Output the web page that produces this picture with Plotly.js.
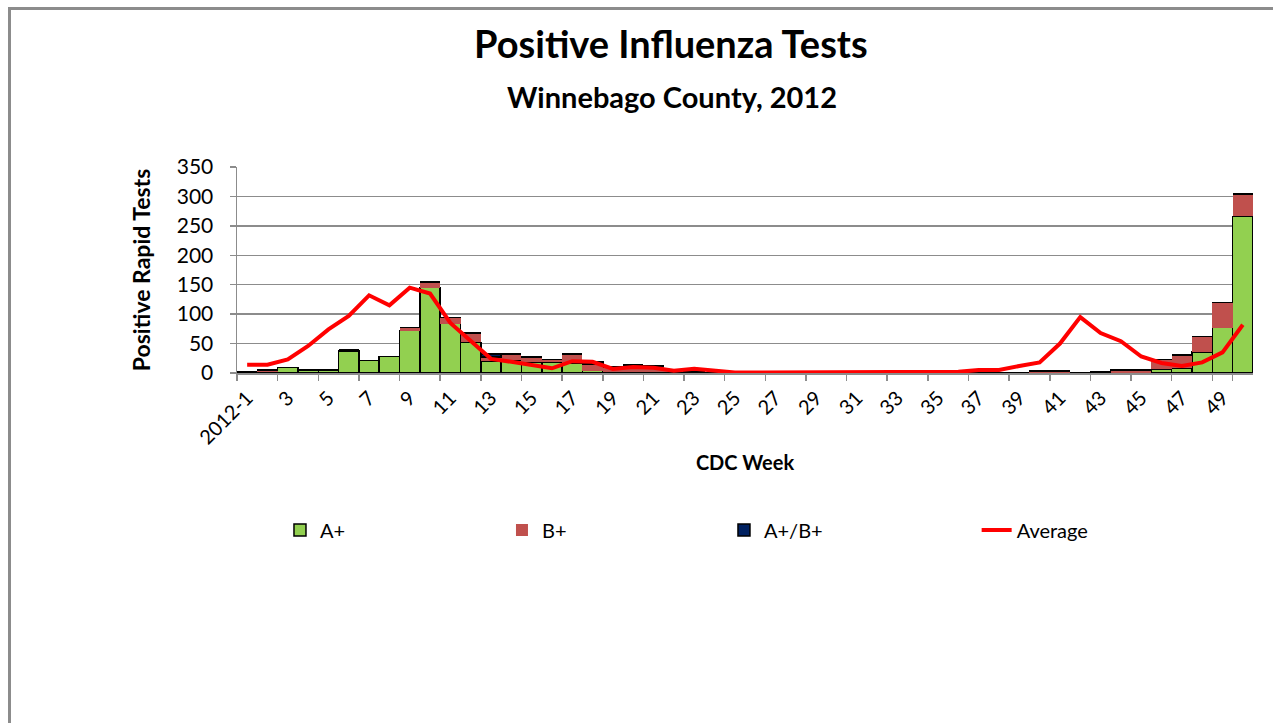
<!DOCTYPE html>
<html>
<head>
<meta charset="utf-8">
<script src="https://cdn.plot.ly/plotly-3.0.1.min.js"></script>
<style>
  html, body { margin: 0; padding: 0; background: #ffffff; overflow: hidden; }
  #chart { position: absolute; left: 0; top: 0; width: 1273px; height: 723px; }
  #frame { position: absolute; left: 8px; top: 7px; width: 1400px; height: 800px;
           border-left: 3px solid #8c8c8c; border-top: 3px solid #8c8c8c; pointer-events: none; }
</style>
</head>
<body>
<div id="chart"></div>
<div id="frame"></div>
<script>
// CDC weeks
const weeks = ['2012-1'];
for (let w = 2; w <= 50; w++) weeks.push(String(w));

// Tick labels (every other week)
const tickWeeks = ['2012-1','3','5','7','9','11','13','15','17','19','21','23','25','27','29','31','33','35','37','39','41','43','45','47','49'];

// Positive A+
const aPos = [2, 1, 9, 5, 5, 37, 21, 28, 72, 145,
              84, 52, 20, 22, 19, 18, 17, 4, 2, 2,
              2, 1, 1, 0, 0, 0, 0, 0, 0, 0,
              0, 0, 0, 0, 0, 0, 0, 0, 0, 0,
              0, 0, 0, 0, 0, 6, 8, 36, 77, 266];

// Positive B+
const bPos = [0, 4, 0, 0, 0, 2, 0, 0, 5, 10,
              10, 16, 7, 10, 8, 5, 15, 11, 8, 12,
              10, 4, 1, 1, 0, 0, 0, 0, 0, 0,
              0, 0, 0, 0, 0, 0, 0, 0, 0, 3,
              3, 0, 2, 4, 4, 17, 23, 26, 43, 38];

// Positive A+/B+
const abPos = [0, 0, 0, 0, 0, 0, 0, 0, 0, 0,
               0, 0, 5, 0, 0, 0, 0, 4, 0, 0,
               0, 0, 2, 0, 0, 0, 0, 0, 0, 0,
               0, 0, 0, 0, 0, 0, 0, 0, 0, 1,
               0, 0, 0, 1, 1, 0, 0, 0, 0, 0];

// Average
const avg = [14, 14, 23, 46, 74, 97, 132, 115, 145, 135,
             85, 54, 24, 19, 13, 8, 20, 19, 7, 10,
             9, 4, 7, 4, 1, 1, 1, 1, 1, 1,
             1, 2, 1, 1, 1, 2, 5, 5, 12, 18,
             50, 95, 68, 54, 28, 17, 12, 18, 35, 82];

const FONT = 'Lato, "Open Sans", sans-serif';

const traces = [
  { type: 'bar', name: 'A+', x: weeks, y: aPos, legend: 'legend',
    marker: { color: '#92D050', line: { color: '#000000', width: 1.5 } } },
  { type: 'bar', name: 'B+', x: weeks, y: bPos, legend: 'legend',
    marker: { color: '#C0504D', line: { color: '#C0504D', width: 0 } } },
  { type: 'bar', name: 'A+/B+', x: weeks, y: abPos, legend: 'legend',
    marker: { color: '#002060', line: { color: '#000000', width: 1.5 } } },
  { type: 'scatter', mode: 'lines', name: 'Average', x: weeks, y: avg, legend: 'legend2',
    line: { color: '#FF0000', width: 4 } }
];

const legendY = (373 - 530) / 206;

const layout = {
  width: 1273, height: 723,
  paper_bgcolor: 'rgba(0,0,0,0)', plot_bgcolor: '#ffffff',
  margin: { l: 237, r: 20, t: 167, b: 350 },
  barmode: 'stack', bargap: 0,
  font: { family: FONT, size: 18, color: '#000000' },
  title: { text: '<b>Positive Influenza Tests</b>', x: 0.527, xanchor: 'center',
           y: 0.938, yanchor: 'middle', font: { family: FONT, size: 38, color: '#000000' } },
  annotations: [
    { text: '<b>Winnebago County, 2012</b>', xref: 'paper', yref: 'paper',
      x: 0.428, y: 1.0 + (167 - 97) / 206, xanchor: 'center', yanchor: 'middle',
      showarrow: false, font: { family: FONT, size: 29, color: '#000000' } }
  ],
  xaxis: {
    type: 'category',
    tickmode: 'array', tickvals: tickWeeks, ticktext: tickWeeks,
    tickson: 'boundaries', ticks: 'outside', ticklen: 6, tickcolor: '#8c8c8c', tickwidth: 1.5,
    tickangle: -45, ticklabelstandoff: 4, tickfont: { family: FONT, size: 20, color: '#000000' },
    showline: true, linecolor: '#8c8c8c', linewidth: 1.5,
    showgrid: false, zeroline: false,
    title: { text: '<b>CDC Week</b>', standoff: 8, font: { family: FONT, size: 20, color: '#000000' } }
  },
  yaxis: {
    range: [0, 350], dtick: 50, tick0: 0,
    ticks: 'outside', ticklen: 6, tickcolor: '#8c8c8c', tickwidth: 1.5,
    ticklabelstandoff: 12,
    tickfont: { family: FONT, size: 21, color: '#000000' },
    showline: true, linecolor: '#8c8c8c', linewidth: 1.5,
    showgrid: true, gridcolor: '#8c8c8c', gridwidth: 1.5, zeroline: false,
    title: { text: '<b>Positive Rapid Tests</b>', standoff: 19, font: { family: FONT, size: 23, color: '#000000' } }
  },
  showlegend: true,
  legend: {
    orientation: 'h', x: 0.0423, y: legendY, yanchor: 'middle', xanchor: 'left',
    traceorder: 'normal', entrywidth: 177, entrywidthmode: 'pixels',
    font: { family: FONT, size: 20, color: '#000000' }, bgcolor: 'rgba(0,0,0,0)'
  },
  legend2: {
    orientation: 'h', x: 0.728, y: legendY, yanchor: 'middle', xanchor: 'left',
    font: { family: FONT, size: 20, color: '#000000' }, bgcolor: 'rgba(0,0,0,0)'
  }
};

Plotly.newPlot('chart', traces, layout, { displayModeBar: false, staticPlot: true });
</script>
</body>
</html>
